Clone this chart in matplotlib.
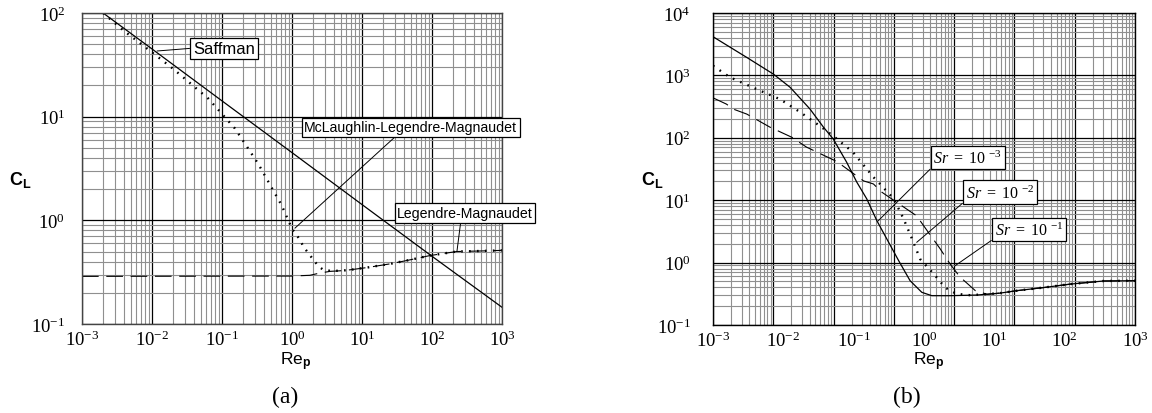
import numpy as np
import matplotlib
matplotlib.use("Agg")
import matplotlib.pyplot as plt
from matplotlib.ticker import LogLocator, FuncFormatter, NullFormatter, FixedLocator

plt.rcParams['font.family'] = ['Liberation Sans', 'DejaVu Sans']
plt.rcParams['mathtext.fontset'] = 'custom'
plt.rcParams['mathtext.rm'] = 'Liberation Serif'
plt.rcParams['mathtext.it'] = 'Liberation Serif:italic'
plt.rcParams['mathtext.bf'] = 'Liberation Sans:bold'
plt.rcParams['mathtext.sf'] = 'Liberation Sans'
plt.rcParams['lines.scale_dashes'] = False

# ---------------- data: panel (a) ----------------
saff_re = [2.0e-3, 1e-2, 1e-1, 1.0, 10.0, 100.0, 1000.0]
saff_cl = [100.0, 45.0, 14.2, 4.5, 1.42, 0.45, 0.145]

mlm_re = [0.002, 0.004, 0.0075, 0.02, 0.064, 0.153, 0.33, 0.71, 1.0, 1.3, 1.45, 2.0,
          2.4, 2.8, 3.5, 4.9, 6.7, 11.7, 25, 44, 93, 224, 537, 1000]
mlm_cl = [100, 67, 48.5, 29, 14.9, 7.7, 3.5, 1.4, 0.83, 0.65, 0.56, 0.42,
          0.36, 0.333, 0.326, 0.326, 0.333, 0.35, 0.38, 0.41, 0.457, 0.50, 0.507, 0.513]

lm_re = [1e-3, 1.0, 1.8, 2.5, 3.5, 4.9, 6.7, 11.7, 25, 44, 93, 224, 537, 1000]
lm_cl = [0.288, 0.29, 0.295, 0.31, 0.322, 0.326, 0.333, 0.35, 0.38, 0.41, 0.457, 0.50, 0.507, 0.513]

# ---------------- data: panel (b) ----------------
sr3_re = [0.001, 0.003, 0.00724, 0.01245, 0.024, 0.0372, 0.0513, 0.0794, 0.1107, 0.1535,
          0.214, 0.437, 0.634, 0.931, 1.29, 2.34, 5.62, 12.0, 20.9, 50.1, 120, 355, 1000]
sr3_cl = [4170, 1950, 1047, 646, 288, 148, 95.5, 40.7, 19.5, 10.5,
          4.68, 1.07, 0.513, 0.334, 0.295, 0.295, 0.302, 0.324, 0.355, 0.398, 0.452, 0.507, 0.513]

sr2_re = [0.001, 0.00174, 0.00468, 0.00891, 0.0174, 0.0331, 0.0513, 0.0977, 0.191, 0.237,
          0.372, 0.513, 0.676, 0.881, 1.445, 2.0, 2.88, 4.57, 12.0, 20.9, 50.1, 120, 355, 1000]
sr2_cl = [1430, 933, 569, 417, 257, 155, 107, 58.9, 23.4, 18.2,
          10.5, 5.01, 2.40, 1.14, 0.617, 0.398, 0.316, 0.30, 0.324, 0.355, 0.398, 0.452, 0.507, 0.513]

sr1_re = [0.001, 0.00155, 0.00195, 0.00302, 0.00646, 0.0132, 0.0214, 0.0575, 0.138, 0.191,
          0.25, 0.785, 1.096, 1.70, 2.34, 3.24, 5.37, 7.94, 12.0, 20.9, 50.1, 120, 355, 1000]
sr1_cl = [437, 347, 288, 240, 148, 102, 70.8, 41.7, 20.4, 18.2,
          13.5, 5.62, 3.31, 1.66, 0.955, 0.59, 0.355, 0.31, 0.324, 0.355, 0.398, 0.452, 0.507, 0.513]

decades_x = [1e-3, 1e-2, 1e-1, 1e0, 1e1, 1e2, 1e3]
decades_ya = [1e-1, 1e0, 1e1, 1e2]
decades_yb = [1e-1, 1e0, 1e1, 1e2, 1e3, 1e4]

xlabels_txt = r"$\mathsf{Re}_{\mathbf{p}}$"
ylabel_txt = r"$\mathbf{C_L}$"

W, H = 1152, 414
fig = plt.figure(figsize=(W / 100, H / 100), dpi=100)

def rect(l, t, r, b):
    return [l / W, 1 - b / H, (r - l) / W, (b - t) / H]

dec_fmt = FuncFormatter(lambda v, p: r"$\mathrm{10^{%d}}$" % int(round(np.log10(v))))
MAJ = dict(color='black', lw=0.9)
MIN = dict(color='#8f8f8f', lw=0.8)
DOT = dict(color='black', lw=1.7, linestyle=(0, (1.2, 4.5)))
DASH = dict(color='black', lw=0.8, linestyle=(0, (12, 5.5)))
SOLID = dict(color='black', lw=0.9)

def setup_log_grid(a):
    for axis in [a.xaxis, a.yaxis]:
        axis.set_major_locator(LogLocator(base=10, numticks=20))
        axis.set_minor_locator(LogLocator(base=10, subs=np.arange(2, 10), numticks=200))
        axis.set_minor_formatter(NullFormatter())
    a.grid(True, which='major', **MAJ)
    a.grid(True, which='minor', **MIN)
    a.set_axisbelow(True)

def style_ticks(a, xt, yt, ypad):
    a.xaxis.set_major_locator(FixedLocator(xt))
    a.yaxis.set_major_locator(FixedLocator(yt))
    a.tick_params(which='both', length=0)
    a.tick_params(axis='x', which='major', labelsize=13.5, pad=4)
    a.tick_params(axis='y', which='major', labelsize=13.5, pad=ypad)
    a.xaxis.set_major_formatter(dec_fmt)
    a.yaxis.set_major_formatter(dec_fmt)

box = dict(boxstyle='square,pad=0.18', fc='white', ec='black', lw=0.9)
arr = dict(arrowstyle='-', color='black', lw=0.7, shrinkA=0, shrinkB=0)

# ---------------- panel (a) ----------------
ax = fig.add_axes(rect(82, 14, 502, 325))
ax.set_xscale('log'); ax.set_yscale('log')
ax.set_xlim(1e-3, 1e3); ax.set_ylim(1e-1, 1e2)
setup_log_grid(ax)
style_ticks(ax, decades_x, decades_ya, 12)
for s in ax.spines.values():
    s.set_color('#444444'); s.set_linewidth(1.0)
ax.plot(saff_re, saff_cl, **SOLID)
ax.plot(lm_re, lm_cl, **DASH)
ax.plot(mlm_re, mlm_cl, **DOT)

ax.annotate("Saffman", xy=(0.0118, 43), xytext=(0.338, 0.887), textcoords='axes fraction',
            ha='center', va='center', fontsize=12, bbox=box,
            arrowprops=dict(arr, relpos=(0, 0.5)), annotation_clip=False)
ax.annotate("McLaughlin-Legendre-Magnaudet", xy=(1.1, 0.84), xytext=(0.783, 0.633),
            textcoords='axes fraction', ha='center', va='center', fontsize=10.2, bbox=box,
            arrowprops=dict(arr, relpos=(0.44, 0)), annotation_clip=False)
ax.annotate("Legendre-Magnaudet", xy=(227, 0.50), xytext=(0.912, 0.357),
            textcoords='axes fraction', ha='center', va='center', fontsize=10.2, bbox=box,
            arrowprops=dict(arr, relpos=(0.47, 0)), annotation_clip=False)

# ---------------- panel (b) ----------------
rb = rect(713, 14, 1135, 326)
axg = fig.add_axes(rb)
axg.set_xscale('log'); axg.set_yscale('log')
axg.set_xlim(1, 1e7); axg.set_ylim(1e-1, 1e4)
setup_log_grid(axg)
axg.tick_params(which='both', length=0, labelbottom=False, labelleft=False)
axg.xaxis.set_major_formatter(NullFormatter())
axg.yaxis.set_major_formatter(NullFormatter())
for s in axg.spines.values():
    s.set_visible(False)

bx = fig.add_axes(rb)
bx.set_zorder(axg.get_zorder() + 1)
bx.patch.set_visible(False)
bx.set_xscale('log'); bx.set_yscale('log')
bx.set_xlim(1e-3, 1e3); bx.set_ylim(1e-1, 1e4)
bx.xaxis.set_minor_locator(FixedLocator([]))
bx.yaxis.set_minor_locator(FixedLocator([]))
style_ticks(bx, decades_x, decades_yb, 16)
for s in bx.spines.values():
    s.set_color('black'); s.set_linewidth(1.0)
bx.plot(sr3_re, sr3_cl, **SOLID)
bx.plot(sr2_re, sr2_cl, **DOT)
bx.plot(sr1_re, sr1_cl, **DASH)

sfont = 11.5
bx.annotate(r"$\mathit{Sr}\ =\ 10\ ^{-3}$", xy=(0.222, 4.64), xytext=(0.604, 0.5375),
            textcoords='axes fraction', ha='center', va='center', fontsize=sfont, bbox=box,
            arrowprops=dict(arr, relpos=(0, 0)), annotation_clip=False)
bx.annotate(r"$\mathit{Sr}\ =\ 10\ ^{-2}$", xy=(0.787, 2.11), xytext=(0.680, 0.4263),
            textcoords='axes fraction', ha='center', va='center', fontsize=sfont, bbox=box,
            arrowprops=dict(arr, relpos=(0, 0)), annotation_clip=False)
bx.annotate(r"$\mathit{Sr}\ =\ 10\ ^{-1}$", xy=(2.76, 0.89), xytext=(0.749, 0.306),
            textcoords='axes fraction', ha='center', va='center', fontsize=sfont, bbox=box,
            arrowprops=dict(arr, relpos=(0, 0)), annotation_clip=False)

# ---------------- labels ----------------
fig.text(20 / W, 1 - 180 / H, ylabel_txt, ha='center', va='center', fontsize=13)
fig.text(652 / W, 1 - 180 / H, ylabel_txt, ha='center', va='center', fontsize=13)
fig.text(296 / W, 1 - 362 / H, xlabels_txt, ha='center', va='center', fontsize=12.5)
fig.text(929 / W, 1 - 362 / H, xlabels_txt, ha='center', va='center', fontsize=12.5)
fig.text(285 / W, 1 - 397 / H, "(a)", ha='center', va='center', fontsize=17,
         family='Liberation Serif')
fig.text(907 / W, 1 - 397 / H, "(b)", ha='center', va='center', fontsize=17,
         family='Liberation Serif')

fig.savefig("out.png", dpi=100)
